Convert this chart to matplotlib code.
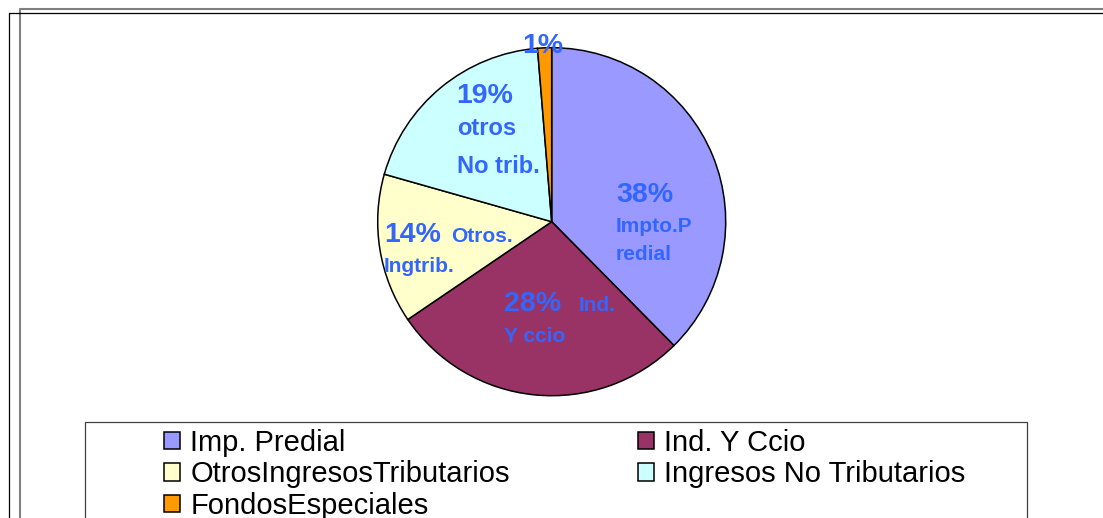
import matplotlib.pyplot as plt
from matplotlib.lines import Line2D
from matplotlib.patches import Rectangle

plt.rcParams['font.family'] = ['Liberation Sans', 'DejaVu Sans']

# Data
categories = ["Imp. Predial", "Ind. Y Ccio", "OtrosIngresosTributarios",
              "Ingresos No Tributarios", "FondosEspeciales"]
shares = [37.6, 27.9, 13.9, 19.3, 1.3]
slice_names = [["Impto.P", "redial"], ["Ind.", "Y ccio"], ["Otros.", "Ingtrib."],
               ["otros", "No trib."], []]
colors = ["#9999FF", "#993366", "#FFFFCC", "#CCFFFF", "#FF9900"]

W, H = 1103, 518
LABEL_BLUE = "#3366FF"

fig = plt.figure(figsize=(W / 100, H / 100), dpi=100)
ax = fig.add_axes([0, 0, 1, 1])

# pie in pixel-like coordinates (y goes up)
cx, cy, r = 551.7, H - 221.7, 174
wedges, _ = ax.pie(shares, colors=colors, startangle=90, counterclock=False,
                   center=(cx, cy), radius=r,
                   wedgeprops=dict(edgecolor="black", linewidth=1.1))
ax.set_xlim(0, W)
ax.set_ylim(0, H)
ax.set_aspect("equal")
ax.axis("off")

def px(x, y):
    # convert picture pixel position to data coords
    return x, H - y

def put(x, y, s, size):
    xx, yy = px(x, y)
    ax.text(xx, yy, s, fontsize=size, fontweight="bold", color=LABEL_BLUE,
            ha="left", va="baseline")

pct = [f"{round(v)}%" for v in shares]

# Impto. Predial
put(616, 201.7, pct[0], 20.5)
put(616, 231.7, slice_names[0][0], 15)
put(616, 260, slice_names[0][1], 15)
# Ind. Y Ccio
put(504, 310.7, pct[1], 20.5)
put(579, 310.7, slice_names[1][0], 15)
put(504, 341.7, slice_names[1][1], 15)
# Otros ingresos tributarios
put(384, 241.7, pct[2], 20.5)
put(450.7, 241.7, slice_names[2][0], 15)
put(384, 271.7, slice_names[2][1], 15)
# Ingresos no tributarios
put(456.7, 103.3, pct[3], 20.5)
put(456.7, 135, slice_names[3][0], 17)
put(456.7, 173.3, slice_names[3][1], 17)
# Fondos especiales
put(522.3, 53.3, pct[4], 20.5)

# outer frames (two offset borders)
ax.add_line(Line2D([20, 20, W], [0, H - 8.5, H - 8.5], color="#808080", lw=1.5))
ax.add_line(Line2D([8.5, 8.5, W], [0, H - 13, H - 13], color="black", lw=0.9))

# legend frame, runs off the bottom
ax.add_patch(Rectangle((85, -20), 1027 - 85, H - 421.7 + 20, fill=False,
                       edgecolor="#404040", lw=0.9))

order = [0, 2, 4, 1, 3]
fig.legend([wedges[i] for i in order], [categories[i] for i in order],
           ncol=2, loc="upper left", bbox_to_anchor=(164 / W, 1 - 429 / H),
           frameon=False, fontsize=21, handlelength=0.55, handleheight=0.55,
           handletextpad=0.35, columnspacing=4.4, labelspacing=0.12,
           borderpad=0, borderaxespad=0)

fig.savefig("out.png", dpi=100)
